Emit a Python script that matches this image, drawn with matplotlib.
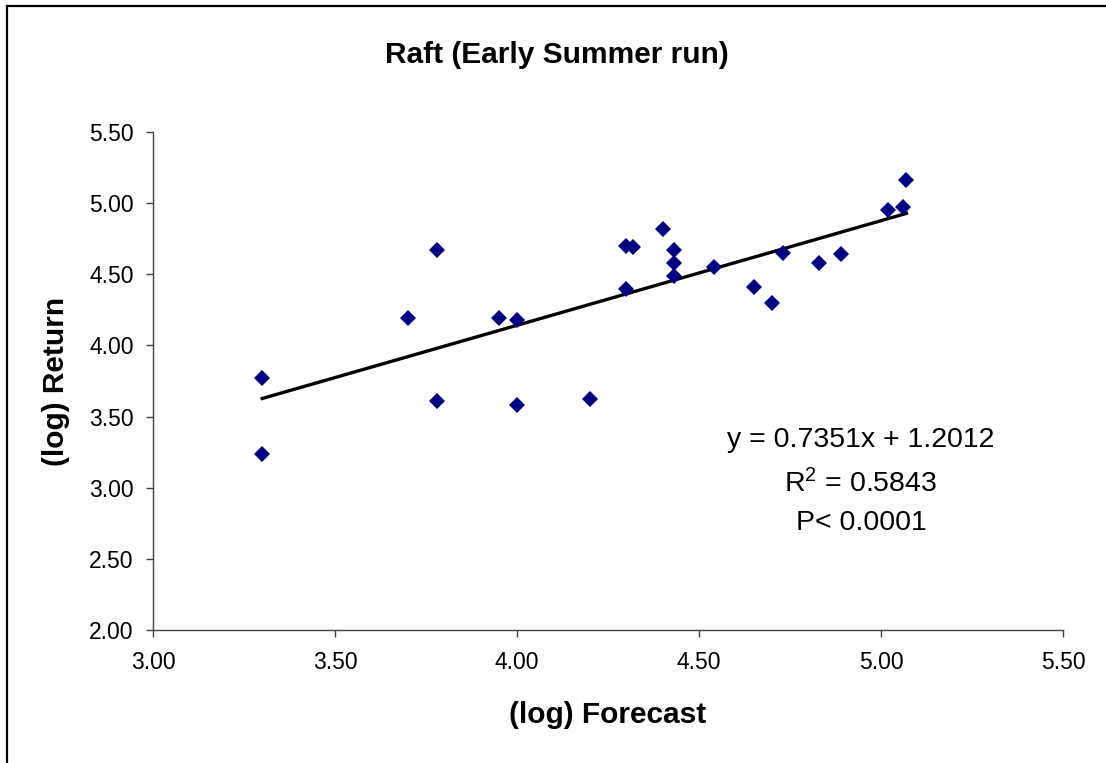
import matplotlib.pyplot as plt
import numpy as np
from matplotlib.patches import Rectangle

plt.rcParams['font.family'] = ['Liberation Sans', 'DejaVu Sans']
plt.rcParams['mathtext.fontset'] = 'custom'
plt.rcParams['mathtext.rm'] = 'Liberation Sans'
plt.rcParams['mathtext.it'] = 'Liberation Sans'

# data
forecast = [3.30, 3.30, 3.70, 3.78, 3.78, 3.95, 4.00, 4.00, 4.20, 4.30, 4.30, 4.32,
            4.40, 4.43, 4.43, 4.43, 4.54, 4.65, 4.70, 4.73, 4.83, 4.89, 5.02, 5.06, 5.07]
returns = [3.77, 3.24, 4.19, 4.67, 3.61, 4.19, 4.18, 3.58, 3.62, 4.70, 4.40, 4.69,
           4.82, 4.67, 4.58, 4.49, 4.55, 4.41, 4.30, 4.65, 4.58, 4.64, 4.95, 4.97, 5.16]
slope = 0.7351
intercept = 1.2012
r_squared = 0.5843
x_ticks = [3.00, 3.50, 4.00, 4.50, 5.00, 5.50]
y_ticks = [2.00, 2.50, 3.00, 3.50, 4.00, 4.50, 5.00, 5.50]

W, H = 1106, 763
fig = plt.figure(figsize=(W / 100, H / 100), dpi=100)
ax = fig.add_axes([153 / W, 1 - 630 / H, (1063 - 153) / W, (630 - 132) / H])

ax.plot(forecast, returns, linestyle='none', marker='D', markersize=8,
        color='#000080', markeredgewidth=0, zorder=3)

fit_x = np.array([min(forecast), max(forecast)])
ax.plot(fit_x, slope * fit_x + intercept, color='black', linewidth=2.4, zorder=2)

ax.set_xlim(3.0, 5.5)
ax.set_ylim(2.0, 5.5)
ax.set_xticks(x_ticks)
ax.set_yticks(y_ticks)
ax.set_xticklabels([f'{t:.2f}' for t in x_ticks])
ax.set_yticklabels([f'{t:.2f}' for t in y_ticks])
ax.tick_params(axis='both', direction='out', length=5, width=1, colors='#404040',
               labelcolor='black', labelsize=16.5)
ax.tick_params(axis='x', pad=10)
ax.tick_params(axis='y', pad=9)
for side in ['top', 'right']:
    ax.spines[side].set_visible(False)
for side in ['left', 'bottom']:
    ax.spines[side].set_color('#404040')
    ax.spines[side].set_linewidth(1)

fig.text(557 / W, 1 - 55 / H, 'Raft (Early Summer run)', ha='center', va='center',
         fontsize=21.5, fontweight='bold')
fig.text(608 / W, 1 - 715 / H, '(log) Forecast', ha='center', va='center',
         fontsize=21.5, fontweight='bold')
fig.text(56 / W, 1 - 381 / H, '(log) Return', ha='center', va='center',
         rotation=90, fontsize=21.5, fontweight='bold')

fig.text(861 / W, 1 - 440 / H, f'y = {slope:.4f}x + {intercept:.4f}',
         ha='center', va='center', fontsize=20.5)
fig.text(861 / W, 1 - 484 / H, f'R$^2$ = {r_squared:.4f}',
         ha='center', va='center', fontsize=20.5)
fig.text(861 / W, 1 - 523 / H, 'P< 0.0001',
         ha='center', va='center', fontsize=20.5)

# chart border (right and bottom edges lie outside the picture)
fig.patches.append(Rectangle((7 / W, -0.1), 1.2, 1.1 - 6.5 / H, transform=fig.transFigure,
                             fill=False, edgecolor='black', linewidth=1.6))

fig.savefig('out.png', dpi=100, facecolor='white')
